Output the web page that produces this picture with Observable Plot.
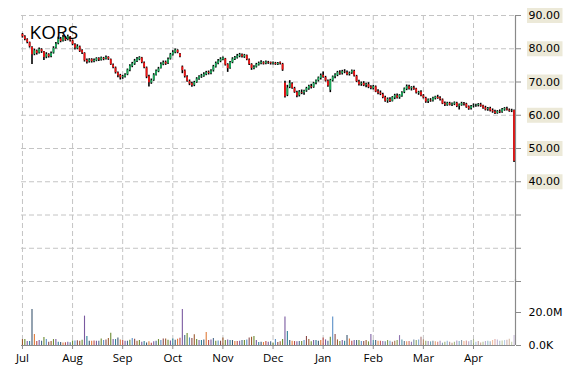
<!DOCTYPE html>
<html><head><meta charset="utf-8">
<script src="https://cdn.jsdelivr.net/npm/d3@7"></script>
<script src="https://cdn.jsdelivr.net/npm/@observablehq/plot@0.6"></script>
<style>
body{margin:0;background:#fff}
#wrap{position:relative;width:570px;height:370px;overflow:hidden;background:#fff}
#wrap svg{position:absolute;left:0;overflow:visible}
</style></head><body><div id="wrap"></div>
<script>
const title = "KORS";
const open = [
84.3,83.6,82.7,81.8,80.4,78.3,79.3,78.7,79.7,79.0,
77.5,78.2,77.7,78.7,80.2,81.5,82.9,82.3,83.3,82.7,
83.5,82.3,81.2,80.0,80.5,79.4,78.6,76.5,76.1,76.7,
76.2,76.4,77.0,76.6,77.1,76.9,77.4,76.7,75.1,74.2,
72.7,72.0,71.3,71.5,72.2,73.5,74.7,75.4,76.2,76.7,
77.2,75.7,74.2,71.6,69.7,70.5,72.0,73.1,74.1,75.2,
75.9,75.5,76.9,78.1,78.8,79.5,78.4,74.5,73.3,71.5,
70.1,69.5,69.0,69.9,70.8,71.5,71.7,72.2,72.9,72.5,
73.4,74.5,75.5,76.2,76.7,76.9,75.2,74.1,75.8,76.8,
77.2,77.7,78.1,77.5,77.9,76.6,75.2,74.0,74.5,75.1,
75.5,75.8,75.5,75.9,75.8,75.4,75.6,75.2,75.8,75.3,
69.6,66.0,68.4,69.4,68.0,66.8,65.9,66.8,66.7,67.3,
67.9,68.6,68.4,69.7,70.4,71.1,72.0,71.3,70.2,67.5,
70.4,71.6,72.0,72.7,72.5,73.0,72.8,72.3,72.7,73.2,
71.7,70.0,69.3,69.6,69.0,69.2,68.5,68.0,68.5,67.1,
66.7,66.2,65.3,64.3,64.7,64.2,65.2,65.8,65.3,65.7,
66.9,67.8,68.5,68.0,68.2,67.9,66.6,66.9,65.8,65.1,
64.1,64.5,64.3,65.0,65.4,65.1,64.6,63.5,63.0,63.5,
63.1,63.3,63.6,62.7,63.0,63.4,63.3,62.5,62.0,62.7,
62.9,62.9,63.1,62.8,62.2,61.7,62.0,61.4,61.0,60.6,
61.0,60.9,61.6,61.9,61.5,61.3,61.4];
const high = [
84.6,83.9,83.0,82.0,80.6,79.9,79.6,80.2,80.0,79.2,
78.8,78.5,79.0,80.6,81.9,83.5,83.4,84.0,83.7,84.1,
83.7,82.6,81.5,81.2,80.8,79.7,78.8,76.9,77.0,77.0,
76.9,77.3,77.3,77.5,77.4,77.8,77.6,76.9,75.4,74.5,
73.0,72.3,72.0,72.5,73.9,75.2,75.9,76.8,77.4,77.6,
77.4,76.0,74.5,72.0,70.9,72.5,73.6,74.4,75.8,76.3,
76.3,77.2,78.6,79.4,79.9,79.7,78.6,74.8,73.6,71.9,
70.6,69.9,70.2,71.3,71.9,72.3,72.8,73.2,73.3,73.7,
75.0,76.0,76.8,77.3,77.5,77.1,75.5,76.2,77.3,77.7,
78.3,78.6,78.4,78.3,78.1,76.9,75.5,74.9,75.6,76.0,
76.4,76.1,76.3,76.2,76.0,76.0,75.9,75.9,76.0,75.6,
70.2,69.0,70.4,69.8,68.4,67.2,67.4,67.6,67.5,68.4,
69.0,69.3,69.9,70.6,71.5,72.4,73.0,71.7,70.6,70.8,
71.8,72.5,73.2,73.4,73.5,73.7,73.3,73.0,73.6,73.5,
72.0,70.5,70.0,70.1,69.6,69.8,68.9,69.0,68.8,67.7,
67.3,66.6,65.7,65.2,65.3,65.6,66.3,66.4,66.2,67.1,
68.2,69.1,69.0,68.6,68.7,68.1,67.2,67.4,66.2,65.4,
64.9,65.0,65.4,65.7,66.0,65.6,64.9,64.0,63.9,63.9,
63.7,64.0,63.9,63.4,63.9,63.8,63.6,62.8,62.9,63.4,
63.3,63.5,63.6,63.0,62.7,62.3,62.4,61.9,61.5,61.4,
61.6,62.0,62.3,62.4,61.9,61.8,61.6];
const low = [
83.2,82.4,81.5,80.2,75.3,77.9,78.1,78.4,78.6,76.5,
77.0,77.2,77.3,78.4,79.9,81.2,81.8,82.0,82.2,82.4,
82.0,80.9,79.6,79.7,78.9,78.3,76.0,75.4,75.7,75.7,
75.8,76.1,76.2,76.3,76.4,76.6,76.5,75.0,74.0,72.4,
71.3,70.6,70.8,71.2,71.9,73.1,74.3,75.0,75.9,76.4,
75.5,74.0,71.0,68.5,69.3,70.2,71.8,72.8,73.9,74.9,
75.0,75.3,76.6,77.8,78.5,78.5,77.3,72.5,71.2,69.9,
68.9,68.4,68.6,69.6,70.5,71.1,71.4,71.9,72.1,72.2,
73.0,74.2,75.2,75.8,76.4,74.8,72.9,73.8,75.5,76.5,
76.9,77.3,77.2,77.1,76.4,75.0,73.5,73.7,74.2,74.8,
75.2,75.1,75.2,75.3,75.1,75.1,75.0,75.0,75.1,73.2,
65.2,65.6,68.0,67.8,66.6,65.3,65.5,66.2,66.0,66.9,
67.5,67.9,68.1,69.2,70.0,70.6,71.1,70.0,68.4,66.8,
70.0,71.0,71.6,72.0,72.1,72.5,71.9,71.8,72.3,71.5,
69.8,68.8,68.7,68.6,68.3,68.0,67.7,67.6,66.8,66.2,
65.9,65.0,63.9,63.6,63.8,64.0,64.7,64.9,64.8,65.4,
66.5,67.4,67.6,67.3,67.5,66.4,66.0,65.6,64.9,63.6,
63.5,63.9,64.0,64.6,64.8,64.3,63.2,62.6,62.7,62.8,
62.6,62.9,62.3,61.6,62.7,62.8,62.1,61.5,61.6,62.2,
62.4,62.5,62.4,61.8,61.3,61.2,61.0,60.6,60.2,60.3,
60.5,60.6,61.2,61.3,60.9,60.8,45.8];
const close = [
83.6,82.8,81.9,80.6,78.2,79.4,78.6,79.8,79.1,77.4,
78.3,77.6,78.6,80.1,81.4,82.9,82.2,83.4,82.6,83.6,
82.4,81.3,80.2,80.6,79.2,78.7,76.4,76.0,76.6,76.1,
76.5,77.0,76.6,77.2,76.8,77.4,76.9,75.2,74.3,72.8,
71.9,71.2,71.6,72.1,73.6,74.8,75.5,76.3,76.9,77.3,
75.8,74.3,71.5,69.8,70.4,72.1,73.2,73.9,75.3,75.8,
75.4,76.8,78.2,78.9,79.6,78.8,77.6,73.4,71.6,70.2,
69.4,68.9,69.8,70.9,71.6,71.8,72.3,72.8,72.6,73.3,
74.6,75.6,76.3,76.8,77.2,75.1,74.0,75.9,76.9,77.3,
77.8,78.2,77.6,78.0,76.7,75.3,74.1,74.4,75.2,75.6,
75.9,75.4,76.0,75.7,75.5,75.7,75.3,75.6,75.5,73.6,
65.6,68.2,69.6,68.1,66.9,65.8,67.0,66.6,67.2,68.0,
68.7,68.3,69.6,70.3,71.2,71.9,71.4,70.3,68.8,70.5,
71.5,72.1,72.8,72.4,73.1,72.9,72.2,72.6,73.3,71.8,
70.1,69.2,69.6,68.9,69.3,68.4,68.1,68.6,67.0,66.6,
66.3,65.3,64.2,64.8,64.1,65.3,65.9,65.2,66.0,66.8,
67.9,68.6,67.9,68.3,67.8,66.7,66.9,65.9,65.2,64.0,
64.6,64.3,65.1,65.5,65.0,64.7,63.4,63.1,63.6,63.0,
63.4,63.7,62.6,63.1,63.5,63.2,62.4,61.9,62.6,62.8,
63.0,63.2,62.7,62.1,61.6,62.0,61.3,61.0,60.5,61.1,
60.8,61.7,62.0,61.6,61.2,61.4,46.2];
// volume in millions
const volume = [
3.6,3.6,2.4,2.4,21.8,6.7,2.4,3.0,2.6,4.8,
3.6,2.0,2.4,3.6,3.6,2.0,1.8,1.5,1.7,2.0,
1.6,2.8,2.7,2.9,2.6,3.2,17.8,5.5,2.6,2.6,
2.8,2.6,2.6,4.0,3.0,3.4,4.2,7.5,3.6,3.6,
4.6,3.4,3.0,2.6,2.6,3.2,4.2,3.8,2.6,3.0,
2.0,2.4,1.5,2.2,1.3,2.2,2.6,3.6,3.0,4.0,
4.0,3.2,2.8,4.0,3.2,3.8,4.4,21.8,6.0,7.3,
4.6,4.2,6.5,3.6,3.0,3.0,3.4,7.9,3.0,3.4,
4.2,2.6,2.8,2.6,4.6,3.0,3.4,3.0,3.0,2.4,
2.4,2.6,3.0,3.0,3.4,4.6,5.0,5.5,3.0,1.8,
2.0,1.8,2.4,2.0,2.2,1.5,3.6,1.8,2.2,3.6,
17.2,8.5,3.0,2.6,2.4,2.2,2.4,2.4,3.0,5.5,
3.6,2.2,3.0,3.0,2.6,3.0,4.6,3.4,2.6,5.0,
17.2,6.7,3.4,2.4,3.0,2.6,6.0,4.0,2.6,3.0,
3.0,3.0,2.4,2.4,3.0,2.2,6.7,3.0,3.0,2.6,
2.6,2.4,2.2,3.0,2.6,2.0,2.6,3.0,6.0,3.4,
2.4,2.2,2.4,2.0,3.4,3.0,3.4,5.0,3.4,2.6,
2.4,2.2,2.6,2.2,2.0,2.6,1.4,2.0,2.6,2.0,
1.4,2.0,2.8,2.4,3.0,2.4,2.8,2.2,3.0,3.4,
2.0,2.4,1.5,2.0,2.4,2.6,2.2,3.0,3.6,3.4,
2.6,2.8,3.0,3.2,3.8,2.0,6.0];
const monthTicks = [0,21,42,63,84,105,126,147,168,189];
const monthLabels = ["Jul","Aug","Sep","Oct","Nov","Dec","Jan","Feb","Mar","Apr"];
const priceGrid = [90,80,70,60,50,40,30,20,10];
const priceLabelMin = 40;
const volTicks = [0,20e6];
const volColors = ["#9c5a2e","#6a8a30","#7a5aa0","#2e7f96","#3b5670","#e07b39",
                   "#b94a48","#7a5aa0","#4a6a8a","#6a8a30","#5b8fc7","#8b4a4a"];

const bars = close.map((c,i)=>({i,o:open[i],h:high[i],l:low[i],c,v:volume[i]*1e6,
  col: volColors[i % volColors.length],
  op: i < 140 ? 1 : 1 - 0.6*(i-140)/66}));

const xDom = [-0.4, 206.6];
const grid = {stroke:"#c4c4c4", strokeDasharray:"5,3", strokeWidth:1};
const axisColor = "#8a8a8a";
const labelFont = {fontFamily:"DejaVu Sans", fontSize:11, fill:"#000"};

const wrap = document.getElementById("wrap");

const price = Plot.plot({
  width:570, height:290, marginTop:15, marginBottom:9, marginLeft:21, marginRight:55,
  style:{background:"transparent", overflow:"visible"},
  x:{type:"linear", domain:xDom, axis:null, label:null},
  y:{domain:[10,90], label:null},
  marks:[
    Plot.ruleY(priceGrid, grid),
    Plot.ruleX(monthTicks, grid),
    Plot.ruleX(bars, {x:"i", y1:"l", y2:"h", stroke:"#000", strokeWidth:1.6}),
    Plot.ruleX(bars, {x:"i", y1:"o", y2:"c", stroke:d=>d.c>=d.o?"#1aa85a":"#ee1111", strokeWidth:1.8}),
    Plot.ruleX([xDom[1]], {stroke:axisColor, strokeWidth:1.2}),
    Plot.axisY(priceGrid, {anchor:"right", label:null, tickSize:5, tickPadding:8, stroke:axisColor,
      tickFormat:d=> d>=priceLabelMin ? d.toFixed(2) : "", ...labelFont}),
    Plot.text([title], {frameAnchor:"top-left", dx:8, dy:10, lineAnchor:"top", textAnchor:"start",
      fontFamily:"Open Sans", fontSize:19, fill:"#000"})
  ]
});
price.style.top = "0px";
wrap.appendChild(price);

// beige boxes behind price labels
price.querySelectorAll('g[aria-label="y-axis tick label"] text').forEach(t=>{
  if (!t.textContent) return;
  const b = t.getBBox();
  const r = document.createElementNS("http://www.w3.org/2000/svg","rect");
  r.setAttribute("x", b.x - 1.5); r.setAttribute("y", b.y + b.height/2 - 7.5);
  r.setAttribute("width", b.width + 4); r.setAttribute("height", 15);
  r.setAttribute("fill", "#ece9d8");
  if (t.getAttribute("transform")) r.setAttribute("transform", t.getAttribute("transform"));
  t.parentNode.insertBefore(r, t);
});

const vol = Plot.plot({
  width:570, height:100, marginTop:9, marginBottom:25, marginLeft:21, marginRight:55,
  style:{background:"transparent", overflow:"visible"},
  x:{type:"linear", domain:xDom, label:null},
  y:{domain:[0,40e6], label:null},
  marks:[
    Plot.ruleX(monthTicks, grid),
    Plot.ruleX(bars, {x:"i", y:"v", stroke:"col", strokeOpacity:"op", strokeWidth:1.1}),
    Plot.ruleY([0], {stroke:axisColor, strokeWidth:1.2}),
    Plot.ruleX([xDom[1]], {stroke:axisColor, strokeWidth:1.2}),
    Plot.axisX(monthTicks, {anchor:"bottom", label:null, tickSize:4, tickPadding:4, stroke:axisColor,
      tickFormat:d=>monthLabels[monthTicks.indexOf(d)], fontFamily:"Open Sans", fontSize:11.5, fill:"#000"}),
    Plot.axisY(volTicks, {anchor:"right", label:null, tickSize:5, tickPadding:8, stroke:axisColor,
      tickFormat:d=> d===0 ? "0.0K" : (d/1e6).toFixed(1)+"M", ...labelFont})
  ]
});
vol.style.top = "270px";
wrap.appendChild(vol);
</script>
</body></html>
